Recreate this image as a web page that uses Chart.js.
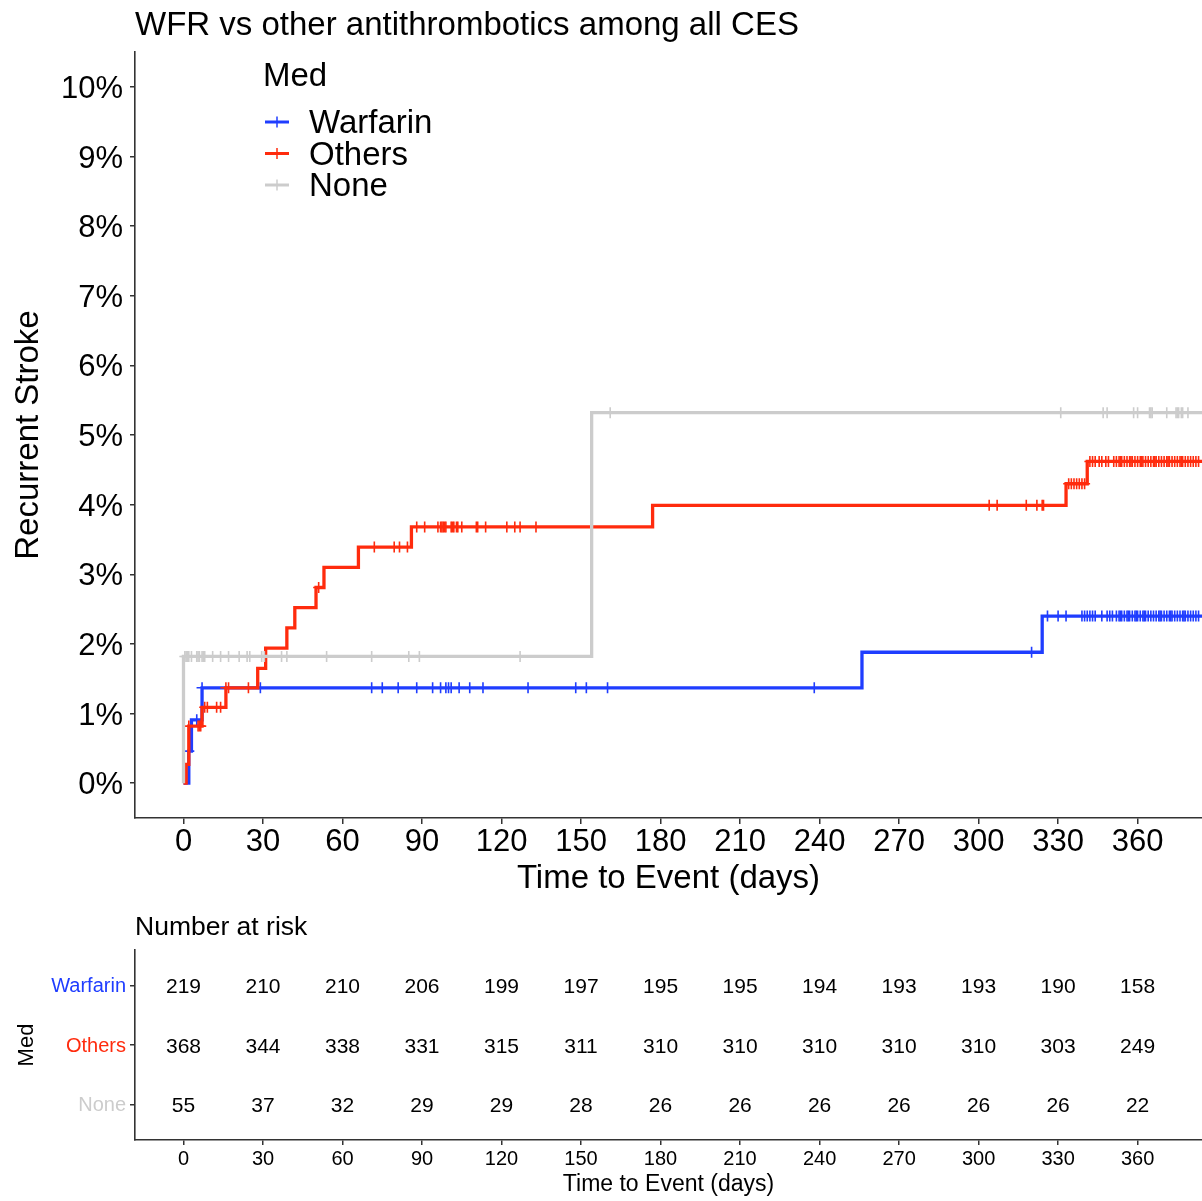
<!DOCTYPE html>
<html lang="en">
<head>
    <meta charset="UTF-8">
    <title>WFR vs other antithrombotics among all CES</title>
    <script src="https://cdn.jsdelivr.net/npm/chart.js"></script>
    <style>
        body { margin: 0; background: #fff; }
        #wrap { position: relative; width: 1202px; height: 1201px; }
        #curveBox { position: absolute; left: 0; top: 0; width: 1202px; height: 900px; }
        #riskBox { position: absolute; left: 0; top: 900px; width: 1202px; height: 301px; }
    </style>
</head>
<body>
<div id="wrap">
    <div id="curveBox"><canvas id="curveCanvas" width="1202" height="900"></canvas></div>
    <div id="riskBox"><canvas id="riskCanvas" width="1202" height="301"></canvas></div>
</div>

<script type="text/javascript">
    // groups and colours
    const groups = ['Warfarin', 'Others', 'None'];
    const groupColors = ['#1f3dff', '#ff2b0d', '#cccccc'];

    // cumulative incidence (%) step points: time (days) -> value after the step
    const wfrTimes  = [0, 2, 3, 7, 256, 324, 400];
    const wfrRisk   = [0, 0.46, 0.91, 1.37, 1.88, 2.40, 2.40];
    const othTimes  = [0, 1, 2, 7, 16, 28, 31, 39, 42, 50, 53, 66, 86, 177, 333, 341, 400];
    const othRisk   = [0, 0.27, 0.82, 1.09, 1.37, 1.65, 1.94, 2.23, 2.52, 2.81, 3.10, 3.39, 3.68, 3.99, 4.30, 4.62, 4.62];
    const noneTimes = [0, 0, 154, 400];
    const noneRisk  = [0, 1.82, 5.32, 5.32];

    // censoring times (days)
    const wfrCensor = [2, 5, 7, 29, 71, 75, 81, 88, 94, 97, 99, 100, 101, 104, 108, 113, 130, 148, 152, 160,
        238, 320, 326, 330, 333, 339, 340, 341, 342, 343, 344, 346.5, 348.5, 349.5, 350.5,
        352, 353, 353.5, 354, 355, 356, 356.5, 357, 358, 359, 359.5, 360, 361, 362, 362.5, 363, 364, 365,
        366, 367, 368, 368.5, 369, 370, 371, 372, 372.5, 373, 374, 375, 376, 377, 377.5, 378, 379, 380,
        381, 382, 383];
    const othCensor = [2, 5.5, 6, 6.5, 8, 9, 12.5, 14, 16, 17, 24.5, 51, 72, 79.5, 81.5, 84.5,
        88, 91, 96, 97, 97.5, 98, 98.5, 99, 101, 101.5, 102, 103, 103.5, 105, 110.5, 111, 114, 122, 125, 127, 133,
        304, 307, 318, 322, 324, 324.5, 334, 335, 336, 337, 338, 339, 340,
        342, 343, 344, 345.5, 346.5, 348, 349, 351, 352, 353, 353.5, 354, 355, 356, 357, 357.5, 358, 359, 360,
        361, 361.5, 362, 363, 364, 365, 366, 366.5, 367, 368, 369, 370, 371, 371.5, 372, 373, 374, 375, 376,
        376.5, 377, 378, 379, 380, 381, 382, 383];
    const noneCensor = [0.5, 1, 1.5, 2, 3, 5, 5.5, 6, 7, 7.5, 8, 11, 14, 17, 21, 24, 25, 29.5, 30.5, 37, 39,
        54, 71, 85, 89, 127, 161, 331, 347, 348.5, 358.5, 360, 364.5, 365, 365.5, 371, 374.5, 375, 375.5,
        376.5, 377, 379];

    // axis ticks
    const dayTicks = [0, 30, 60, 90, 120, 150, 180, 210, 240, 270, 300, 330, 360];
    const pctTicks = [0, 1, 2, 3, 4, 5, 6, 7, 8, 9, 10];

    // number at risk at each day tick
    const wfrAtRisk  = [219, 210, 210, 206, 199, 197, 195, 195, 194, 193, 193, 190, 158];
    const othAtRisk  = [368, 344, 338, 331, 315, 311, 310, 310, 310, 310, 310, 303, 249];
    const noneAtRisk = [55, 37, 32, 29, 29, 28, 26, 26, 26, 26, 26, 26, 22];

    const FONT = '"Liberation Sans", Arial, Helvetica, sans-serif';
    const AXIS = '#333333';
    Chart.defaults.font.family = FONT;
    Chart.defaults.color = '#000';

    const curveTimes = [wfrTimes, othTimes, noneTimes];
    const curveRisk = [wfrRisk, othRisk, noneRisk];
    const censorTimes = [wfrCensor, othCensor, noneCensor];
    const atRisk = [wfrAtRisk, othAtRisk, noneAtRisk];

    function stepAt(times, vals, t) {
        let v = vals[0];
        for (let i = 0; i < times.length; i++) {
            if (times[i] <= t) v = vals[i];
        }
        return v;
    }

    // no extra label padding, so the plot area is exactly what afterFit says
    function noPad(s) {
        s.paddingLeft = 0;
        s.paddingRight = 0;
        s.paddingTop = 0;
        s.paddingBottom = 0;
    }

    const datasets = [];
    groups.forEach((g, i) => {
        datasets.push({
            label: g,
            type: 'line',
            data: curveTimes[i].map((t, k) => ({x: t, y: curveRisk[i][k]})),
            stepped: true,
            borderColor: groupColors[i],
            borderWidth: 3.3,
            pointRadius: 0,
            fill: false,
            order: 3 - i
        });
        datasets.push({
            label: g + ' censored',
            type: 'scatter',
            data: censorTimes[i].map(t => ({x: t, y: stepAt(curveTimes[i], curveRisk[i], t)})),
            pointStyle: 'cross',
            pointRadius: 5.5,
            pointBorderWidth: 1.6,
            borderColor: groupColors[i],
            backgroundColor: groupColors[i],
            order: 3 - i
        });
    });

    // title + legend drawn on the curve panel
    const curveDecor = {
        id: 'curveDecor',
        afterDraw(chart) {
            const ctx = chart.ctx;
            ctx.save();
            ctx.fillStyle = '#000';
            ctx.textAlign = 'left';
            ctx.textBaseline = 'alphabetic';
            ctx.font = '33px ' + FONT;
            ctx.fillText('WFR vs other antithrombotics among all CES', 135, 35);
            ctx.fillText('Med', 263, 86);
            groups.forEach((g, i) => {
                const y = 122 + i * 31.5;
                ctx.strokeStyle = groupColors[i];
                ctx.lineWidth = 3;
                ctx.beginPath(); ctx.moveTo(265, y); ctx.lineTo(289, y); ctx.stroke();
                ctx.lineWidth = 1.5;
                ctx.beginPath(); ctx.moveTo(277, y - 5.5); ctx.lineTo(277, y + 5.5); ctx.stroke();
                ctx.fillStyle = '#000';
                ctx.fillText(g, 309, y + 11);
            });
            ctx.restore();
        }
    };

    new Chart(document.getElementById('curveCanvas').getContext('2d'), {
        type: 'line',
        data: {datasets: datasets},
        options: {
            responsive: false,
            animation: false,
            layout: {autoPadding: false, padding: {top: 52, right: 0, left: 0, bottom: 0}},
            plugins: {legend: {display: false}, tooltip: {enabled: false}},
            scales: {
                x: {
                    type: 'linear',
                    min: -18.3,
                    max: 384.3,
                    afterBuildTicks: s => { s.ticks = dayTicks.map(v => ({value: v})); },
                    afterFit: s => { s.height = 82; noPad(s); },
                    grid: {drawOnChartArea: false, tickLength: 6, color: AXIS, lineWidth: 1.5},
                    border: {color: AXIS, width: 1.6},
                    ticks: {font: {size: 31}, color: '#000', padding: 0, maxRotation: 0, autoSkip: false},
                    title: {display: true, text: 'Time to Event (days)', font: {size: 33}, color: '#000',
                        padding: {top: 0, bottom: 1}}
                },
                y: {
                    type: 'linear',
                    min: -0.5,
                    max: 10.5,
                    afterBuildTicks: s => { s.ticks = pctTicks.map(v => ({value: v})); },
                    afterFit: s => { s.width = 135; noPad(s); },
                    grid: {drawOnChartArea: false, tickLength: 5, color: AXIS, lineWidth: 1.5},
                    border: {color: AXIS, width: 1.6},
                    ticks: {font: {size: 31}, color: '#000', padding: 7, labelOffset: 2.5,
                        callback: v => v + '%'},
                    title: {display: true, text: 'Recurrent Stroke', font: {size: 33}, color: '#000',
                        padding: {top: 9, bottom: 0}}
                }
            }
        },
        plugins: [curveDecor]
    });

    // number-at-risk table
    const riskCells = [];
    groups.forEach((g, i) => {
        dayTicks.forEach((d, k) => riskCells.push({x: d, y: i + 1, n: atRisk[i][k]}));
    });

    const riskText = {
        id: 'riskText',
        afterDatasetsDraw(chart) {
            const {ctx, scales: {x, y}} = chart;
            ctx.save();
            ctx.fillStyle = '#000';
            ctx.font = '21px ' + FONT;
            ctx.textAlign = 'center';
            ctx.textBaseline = 'middle';
            chart.data.datasets[0].data.forEach(c => {
                ctx.fillText(String(c.n), x.getPixelForValue(c.x), y.getPixelForValue(c.y) + 2);
            });
            ctx.font = '26.5px ' + FONT;
            ctx.textAlign = 'left';
            ctx.textBaseline = 'alphabetic';
            ctx.fillText('Number at risk', 135, 35);
            ctx.restore();
        }
    };

    new Chart(document.getElementById('riskCanvas').getContext('2d'), {
        type: 'scatter',
        data: {datasets: [{label: 'at risk', data: riskCells, pointRadius: 0}]},
        options: {
            responsive: false,
            animation: false,
            layout: {autoPadding: false, padding: {top: 50, right: 0, left: 0, bottom: 0}},
            plugins: {legend: {display: false}, tooltip: {enabled: false}},
            scales: {
                x: {
                    type: 'linear',
                    min: -18.3,
                    max: 384.3,
                    afterBuildTicks: s => { s.ticks = dayTicks.map(v => ({value: v})); },
                    afterFit: s => { s.height = 61; noPad(s); },
                    grid: {drawOnChartArea: false, tickLength: 5, color: AXIS, lineWidth: 1.5},
                    border: {color: AXIS, width: 1.6},
                    ticks: {font: {size: 20}, color: '#000', padding: 2, maxRotation: 0, autoSkip: false},
                    title: {display: true, text: 'Time to Event (days)', font: {size: 23}, color: '#000',
                        padding: {top: 0, bottom: 3}}
                },
                y: {
                    type: 'linear',
                    min: 0.4,
                    max: 3.6,
                    reverse: true,
                    afterBuildTicks: s => { s.ticks = groups.map((g, i) => ({value: i + 1})); },
                    afterFit: s => { s.width = 135; noPad(s); },
                    grid: {drawOnChartArea: false, tickLength: 5, color: AXIS, lineWidth: 1.5},
                    border: {color: AXIS, width: 1.6},
                    ticks: {
                        font: {size: 20},
                        padding: 4,
                        labelOffset: 1,
                        color: c => groupColors[c.index],
                        callback: v => groups[v - 1]
                    },
                    title: {display: true, text: 'Med', font: {size: 22}, color: '#000',
                        padding: {top: 14, bottom: 0}}
                }
            }
        },
        plugins: [riskText]
    });
</script>
</body>
</html>
